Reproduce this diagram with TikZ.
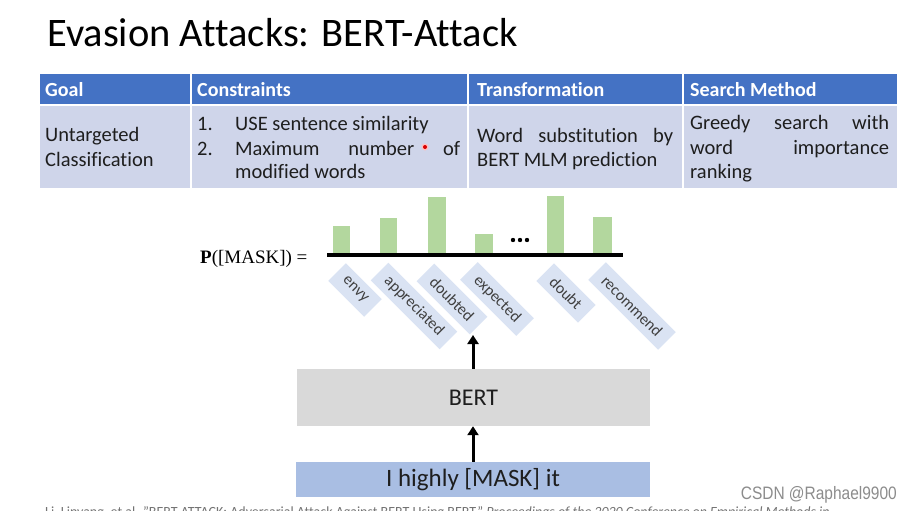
\documentclass[tikz,border=0pt]{standalone}
\usepackage{fontspec}
\usepackage{graphicx}
\setmainfont[Ligatures=NoCommon]{Carlito}
\newfontfamily\serifx{Liberation Serif}
\newfontfamily\wmfont{Liberation Sans}
\usetikzlibrary{arrows.meta}
\definecolor{hdr}{HTML}{4472C4}
\definecolor{bodyc}{HTML}{CFD5EA}
\definecolor{barc}{HTML}{B3D79E}
\definecolor{lbl}{HTML}{DAE3F3}
\definecolor{bertc}{HTML}{D9D9D9}
\definecolor{inpc}{HTML}{A9BEE3}
\definecolor{txt}{HTML}{1E1E1E}
\begin{document}
\begin{tikzpicture}[x=1pt,y=-1pt,
 hcell/.style={fill=hdr, draw=white, line width=1.5pt, anchor=north west, inner sep=0pt, minimum height=31pt},
 bcell/.style={fill=bodyc, draw=white, line width=1.5pt, anchor=north west, inner sep=0pt, minimum height=84pt},
 htext/.style={anchor=base west, inner sep=0pt, text=white, font=\fontsize{20}{23}\selectfont\bfseries},
 btext/.style={anchor=base west, inner sep=0pt, text=txt, font=\fontsize{20.5}{25}\selectfont},
 bar/.style={fill=barc, draw=none},
 wordlbl/.style={fill=lbl, rotate=-45, inner xsep=10pt, inner ysep=0pt, minimum height=25pt, text=txt!85, font=\fontsize{16}{19}\selectfont},
 uparrow/.style={line width=3pt, -{Triangle[width=11pt,length=9pt]}}]
\useasboundingbox (0,0) rectangle (913,511);
\fill[white] (0,0) rectangle (913,511);
% title
\node[anchor=base west, inner sep=0pt, font=\fontsize{40.5}{48}\selectfont, text=black] (title) at (47,47) {Evasion Attacks: BERT-Attack};
% table cells
\node[hcell, minimum width=152pt] (h1) at (38,73) {};
\node[hcell, minimum width=277pt] (h2) at (190,73) {};
\node[hcell, minimum width=215pt] (h3) at (467,73) {};
\node[hcell, minimum width=215pt] (h4) at (682,73) {};
\node[bcell, minimum width=152pt] (b1) at (38,104) {};
\node[bcell, minimum width=277pt] (b2) at (190,104) {};
\node[bcell, minimum width=215pt] (b3) at (467,104) {};
\node[bcell, minimum width=215pt] (b4) at (682,104) {};
% header text
\node[htext] (t1) at (45,96) {Goal};
\node[htext] (t2) at (197,96) {Constraints};
\node[htext] (t3) at (477,96) {Transformation};
\node[htext] (t4) at (690,96) {Search Method};
% body text
\node[btext] (g1) at (45,141) {Untargeted};
\node[btext] (g2) at (45,166) {Classification};
\node[btext] (c1n) at (197,130) {1.};
\node[btext] (c1) at (235,130) {USE sentence similarity};
\node[btext] (c2n) at (197,155) {2.};
\node[btext] (c2) at (235,155) {\makebox[225pt][s]{Maximum number of}};
\node[btext] (c3) at (235,178) {modified words};
\node[btext] (r1) at (477,142) {\makebox[196pt][s]{Word substitution by}};
\node[btext] (r2) at (477,166) {BERT MLM prediction};
\node[btext] (s1) at (690,129) {\makebox[199pt][s]{Greedy search with}};
\node[btext] (s2) at (690,154) {\makebox[199pt][s]{word importance}};
\node[btext] (s3) at (690,178) {ranking};
% laser dot
\fill[red!25] (425,147) circle (3.5pt);
\fill[red!85!black] (425,147) circle (2pt);
% bar chart
\node[anchor=base west, inner sep=0pt, font=\serifx\fontsize{19}{22}\selectfont] (pm) at (200,263) {\textbf{P}([MASK]) =};
\fill[bar] (333,226) rectangle (350,253);
\fill[bar] (380,218) rectangle (397,253);
\fill[bar] (428,197) rectangle (446,253);
\fill[bar] (475,234) rectangle (493,253);
\fill[bar] (547,196) rectangle (564,253);
\fill[bar] (593,217) rectangle (612,253);
\foreach \dx in {513,520,527} \fill (\dx,240) circle (2.2pt);
\draw[line width=4pt] (327,255) -- (623,255);
% word labels
\node[wordlbl] (w1) at (355,290) {envy};
\node[wordlbl] (w2) at (414,306) {appreciated};
\node[wordlbl] (w3) at (452,299) {doubted};
\node[wordlbl] (w4) at (497,299) {expected};
\node[wordlbl] (w5) at (566,293) {doubt};
\node[wordlbl] (w6) at (632,306) {recommend};
% BERT and input
\node[fill=bertc, minimum width=353pt, minimum height=57pt, inner sep=0pt, font=\fontsize{24}{28}\selectfont, text=txt] (bert) at (473.5,397.5) {BERT};
\node[fill=inpc, minimum width=354pt, minimum height=35pt, inner sep=0pt, font=\fontsize{25}{30}\selectfont, text=txt] (inp) at (473,479.5) {I highly [MASK] it};
\coordinate (top) at (473,335);
\draw[uparrow] (bert.north -| top) -- (top);
\draw[uparrow] (inp.north -| top) -- (bert.south -| top);
% watermark and footnote
\node[anchor=base east, inner sep=0pt, text=black!45, font=\wmfont\fontsize{18}{20}\selectfont] (wm) at (897,499) {\scalebox{0.86}[1]{CSDN @Raphael9900}};
\node[anchor=base west, inner sep=0pt, text=black!55, font=\fontsize{14}{16}\selectfont] (fn) at (45,516) {Li, Linyang, et al. "BERT-ATTACK: Adversarial Attack Against BERT Using BERT." \textit{Proceedings of the 2020 Conference on Empirical Methods in}};
\end{tikzpicture}
\end{document}
